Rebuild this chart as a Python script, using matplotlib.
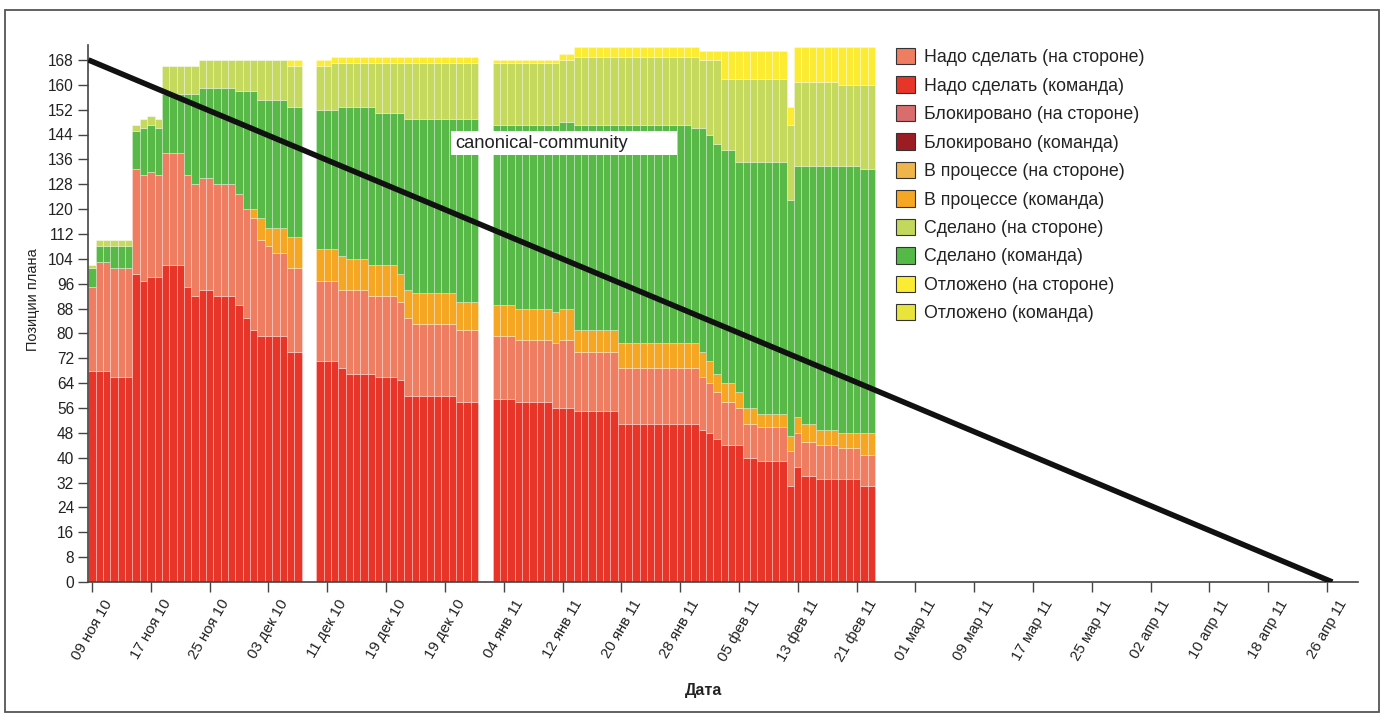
import matplotlib
matplotlib.use("Agg")
import matplotlib.pyplot as plt
import matplotlib.dates as mdates
from matplotlib.patches import Patch, Rectangle
import numpy as np
import pandas as pd

plt.rcParams['font.family'] = ['Liberation Sans Narrow', 'Liberation Sans', 'DejaVu Sans']

# ---------------- data ----------------
seg_ranges = [("2010-11-09", "2010-12-07"), ("2010-12-10", "2010-12-31"), ("2011-01-03", "2011-02-23")]

todo_team = [68, 68, 68, 66, 66, 66, 99, 97, 98, 98, 102, 102, 102, 95, 92, 94, 94, 92, 92, 92, 89, 85, 81, 79, 79, 79, 79, 74, 74,
             71, 71, 71, 69, 67, 67, 67, 67, 66, 66, 66, 65, 60, 60, 60, 60, 60, 60, 60, 58, 58, 58,
             59, 59, 59, 58, 58, 58, 58, 58, 56, 56, 56, 55, 55, 55, 55, 55, 55, 51, 51, 51, 51, 51, 51, 51, 51, 51, 51, 51,
             49, 48, 46, 44, 44, 44, 40, 40, 39, 39, 39, 39, 31, 37, 34, 34, 33, 33, 33, 33, 33, 33, 31, 31]
todo_ext = [27, 35, 35, 35, 35, 35, 34, 34, 34, 33, 36, 36, 36, 36, 36, 36, 36, 36, 36, 36, 36, 35, 36, 31, 29, 27, 27, 27, 27,
            26, 26, 26, 25, 27, 27, 27, 25, 26, 26, 26, 25, 25, 23, 23, 23, 23, 23, 23, 23, 23, 23,
            20, 20, 20, 20, 20, 20, 20, 20, 21, 22, 22, 19, 19, 19, 19, 19, 19, 18, 18, 18, 18, 18, 18, 18, 18, 18, 18, 18,
            17, 16, 15, 14, 14, 12, 11, 11, 11, 11, 11, 11, 11, 11, 11, 11, 11, 11, 11, 10, 10, 10, 10, 10]
inprog_team = [0, 0, 0, 0, 0, 0, 0, 0, 0, 0, 0, 0, 0, 0, 0, 0, 0, 0, 0, 0, 0, 0, 3, 7, 6, 8, 8, 10, 10,
               10, 10, 10, 11, 10, 10, 10, 10, 10, 10, 10, 9, 9, 10, 10, 10, 10, 10, 10, 9, 9, 9,
               10, 10, 10, 10, 10, 10, 10, 10, 10, 10, 10, 7, 7, 7, 7, 7, 7, 8, 8, 8, 8, 8, 8, 8, 8, 8, 8, 8,
               8, 7, 6, 6, 6, 5, 5, 5, 4, 4, 4, 4, 5, 5, 6, 6, 5, 5, 5, 5, 5, 5, 7, 7]
done_team = [6, 5, 5, 7, 7, 7, 12, 15, 15, 15, 19, 19, 19, 26, 29, 29, 29, 31, 31, 31, 33, 38, 38, 38, 41, 41, 41, 42, 42,
             45, 45, 45, 48, 49, 49, 49, 51, 49, 49, 49, 52, 55, 56, 56, 56, 56, 56, 56, 59, 59, 59,
             58, 58, 58, 59, 59, 59, 59, 59, 60, 60, 60, 66, 66, 66, 66, 66, 66, 70, 70, 70, 70, 70, 70, 70, 70, 70, 70, 69,
             72, 73, 74, 75, 75, 74, 79, 79, 81, 81, 81, 81, 76, 81, 83, 83, 85, 85, 85, 86, 86, 86, 85, 85]
done_ext = [1, 2, 2, 2, 2, 2, 2, 3, 3, 3, 9, 9, 9, 9, 9, 9, 9, 9, 9, 9, 10, 10, 10, 13, 13, 13, 13, 13, 13,
            14, 14, 15, 14, 14, 14, 14, 14, 16, 16, 16, 16, 18, 18, 18, 18, 18, 18, 18, 18, 18, 18,
            20, 20, 20, 20, 20, 20, 20, 20, 20, 20, 20, 22, 22, 22, 22, 22, 22, 22, 22, 22, 22, 22, 22, 22, 22, 22, 22, 23,
            22, 24, 27, 23, 23, 27, 27, 27, 27, 27, 27, 27, 24, 27, 27, 27, 27, 27, 27, 26, 26, 26, 27, 27]
postponed_ext = [0, 0, 0, 0, 0, 0, 0, 0, 0, 0, 0, 0, 0, 0, 0, 0, 0, 0, 0, 0, 0, 0, 0, 0, 0, 0, 0, 2, 2,
                 2, 2, 2, 2, 2, 2, 2, 2, 2, 2, 2, 2, 2, 2, 2, 2, 2, 2, 2, 2, 2, 2,
                 1, 1, 1, 1, 1, 1, 1, 1, 1, 2, 2, 3, 3, 3, 3, 3, 3, 3, 3, 3, 3, 3, 3, 3, 3, 3, 3, 3,
                 3, 3, 3, 9, 9, 9, 9, 9, 9, 9, 9, 9, 6, 11, 11, 11, 11, 11, 11, 12, 12, 12, 12, 12]

legend_labels = ["Надо сделать (на стороне)", "Надо сделать (команда)", "Блокировано (на стороне)",
                 "Блокировано (команда)", "В процессе (на стороне)", "В процессе (команда)",
                 "Сделано (на стороне)", "Сделано (команда)", "Отложено (на стороне)", "Отложено (команда)"]
legend_colors = ["#ef7d62", "#e8352a", "#d96c6c", "#9c1c24", "#efb44a", "#f5a623",
                 "#c2d85c", "#55b948", "#fbec33", "#e8e43c"]

ideal_dates = ["2010-11-08 12:00", "2011-04-26 17:00"]
ideal_vals = [168, 0]

tick_dates = ["2010-11-09", "2010-11-17", "2010-11-25", "2010-12-03", "2010-12-11", "2010-12-19",
              "2010-12-27", "2011-01-04", "2011-01-12", "2011-01-20", "2011-01-28", "2011-02-05",
              "2011-02-13", "2011-02-21", "2011-03-01", "2011-03-09", "2011-03-17", "2011-03-25",
              "2011-04-02", "2011-04-10", "2011-04-18", "2011-04-26"]
tick_labels = ["09 ноя 10", "17 ноя 10", "25 ноя 10", "03 дек 10", "11 дек 10", "19 дек 10",
               "19 дек 10", "04 янв 11", "12 янв 11", "20 янв 11", "28 янв 11", "05 фев 11",
               "13 фев 11", "21 фев 11", "01 мар 11", "09 мар 11", "17 мар 11", "25 мар 11",
               "02 апр 11", "10 апр 11", "18 апр 11", "26 апр 11"]

# ---------------- figure ----------------
W, H = 1383, 720
fig = plt.figure(figsize=(W / 100, H / 100), dpi=100)
ax = fig.add_axes([88 / W, 1 - 582 / H, (1358 - 88) / W, (582 - 45) / H])

dates = pd.DatetimeIndex(np.concatenate([pd.date_range(a, b, freq="D").values for a, b in seg_ranges]))
x = mdates.date2num(dates.to_pydatetime())

stack = [(todo_team, "#e8352a"), (todo_ext, "#ef7d62"), (inprog_team, "#f5a623"),
         (done_team, "#58b948"), (done_ext, "#c4d95e"), (postponed_ext, "#fbec33")]
bottom = np.zeros(len(x))
for vals, col in stack:
    v = np.array(vals, dtype=float)
    ax.bar(x, v, width=1.0, bottom=bottom, color=col, edgecolor=(1, 1, 1, 0.3),
           linewidth=0.7, align="center", zorder=2)
    bottom += v

ix = mdates.date2num(pd.to_datetime(ideal_dates).to_pydatetime())
ax.plot(ix, ideal_vals, color="#111111", lw=4.0, solid_capstyle="butt", zorder=5)

x0 = mdates.date2num(pd.Timestamp("2010-11-09").to_pydatetime())
ax.set_xlim(x0 - 0.55, x0 + 172.2)
ax.set_ylim(0, 172.8)

tx = mdates.date2num(pd.to_datetime(tick_dates).to_pydatetime())
ax.set_xticks(tx)
ax.set_xticklabels(tick_labels, rotation=60, ha="center", fontsize=10.8, color="#222")
ax.set_yticks(np.arange(0, 169, 8))
ax.tick_params(axis="y", labelsize=11.2, length=7, width=1, color="#444", labelcolor="#222", pad=3)
ax.tick_params(axis="x", length=7, width=1, color="#444", pad=4)

for s in ["top", "right"]:
    ax.spines[s].set_visible(False)
for s in ["left", "bottom"]:
    ax.spines[s].set_color("#444")
    ax.spines[s].set_linewidth(1.2)

handles = [Patch(facecolor=c, edgecolor="#333", linewidth=0.8) for c in legend_colors]
fig.legend(handles, legend_labels, loc="upper left", bbox_to_anchor=(896 / W, 1 - 48 / H),
           frameon=False, fontsize=12.8, handlelength=1.05, handleheight=1.05,
           handletextpad=0.55, labelspacing=0.57, borderaxespad=0, borderpad=0,
           labelcolor="#222")

# label box
fig.patches.append(Rectangle((451 / W, 1 - 155 / H), (677 - 451) / W, 24 / H,
                             transform=fig.transFigure, facecolor="white", edgecolor="none", zorder=10))
fig.text(455 / W, 1 - 143 / H, "canonical-community", fontsize=13.2, va="center", ha="left",
         color="#222", zorder=11)

fig.text(33 / W, 1 - 300 / H, "Позиции плана", rotation=90, fontsize=10.5, va="center", ha="center", color="#222")
fig.text(704 / W, 1 - 690 / H, "Дата", fontsize=11.5, fontweight="bold", va="center", ha="center", color="#222")

fig.patches.append(Rectangle((5 / W, 1 - 712 / H), (1379 - 5) / W, (712 - 10) / H,
                             transform=fig.transFigure, facecolor="none", edgecolor="#555", linewidth=1.3))

fig.savefig("out.png", dpi=100, facecolor="white")
